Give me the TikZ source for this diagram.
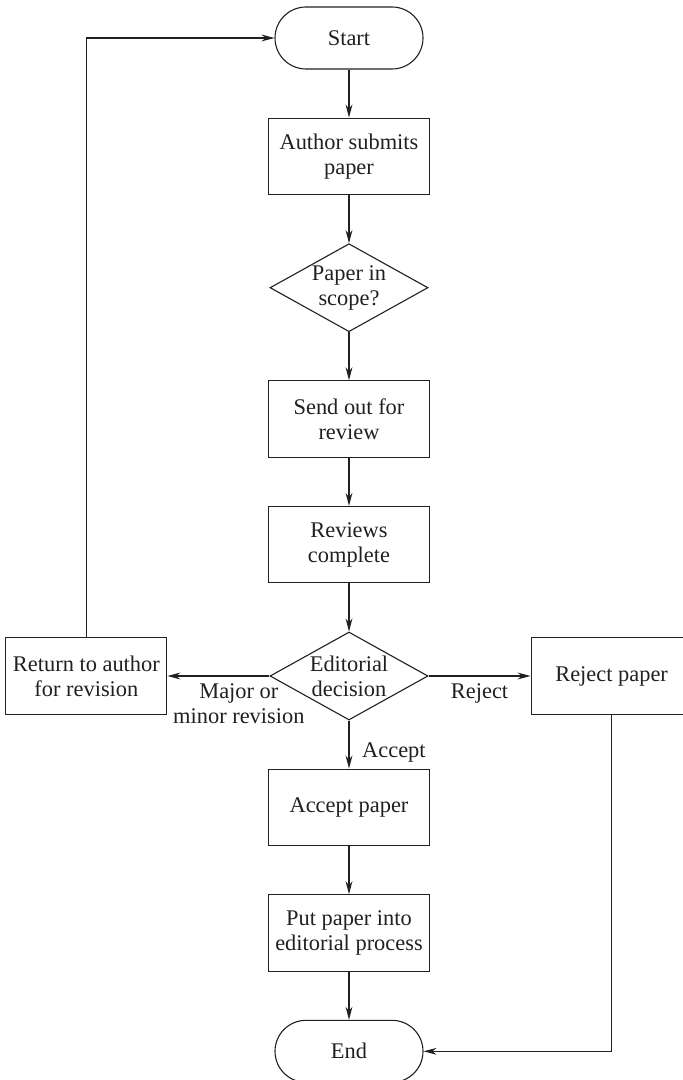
\documentclass[tikz,border=0pt]{standalone}
\usepackage{fontspec}
\setmainfont{Liberation Serif}
\usepackage{xcolor}
\definecolor{ink}{HTML}{231F20}
\usetikzlibrary{arrows.meta, shapes.geometric, positioning}

\begin{document}
\begin{tikzpicture}[x=0.5pt, y=-0.5pt, >={Stealth[length=6.5pt, width=3.4pt]},
  font=\fontsize{11.2}{12.5}\selectfont, color=ink, line width=0.55pt,
  node distance=24pt and 51pt,
  terminal/.style={draw, rounded corners=15.5pt, minimum width=74pt, minimum height=31pt},
  procbox/.style={draw, align=center, inner sep=2pt, minimum width=80.5pt, minimum height=38.25pt},
  decision/.style={draw, diamond, aspect=1.8, inner sep=0pt, align=center,
                   minimum width=79pt, minimum height=44pt},
  flow/.style={->}]

  \useasboundingbox (0,0) rectangle (682,1080);

  % main column
  \node[terminal] (start) at (349,38) {Start};
  \node[procbox, below=of start] (submit) {Author submits\\paper};
  \node[decision, below=of submit] (scope) {Paper in\\scope?};
  \node[procbox, below=of scope] (review) {Send out for\\review};
  \node[procbox, below=of review] (complete) {Reviews\\complete};
  \node[decision, below=of complete] (decide) {Editorial\\decision};
  \node[procbox, left=of decide] (revise) {Return to author\\for revision};
  \node[procbox, right=of decide] (reject) {Reject paper};
  \node[procbox, below=of decide] (accept) {Accept paper};
  \node[procbox, below=of accept] (process) {Put paper into\\editorial process};
  \node[terminal, below=of process] (end) {End};

  \draw[flow] (start) -- (submit);
  \draw[flow] (submit) -- (scope);
  \draw[flow] (scope) -- (review);
  \draw[flow] (review) -- (complete);
  \draw[flow] (complete) -- (decide);
  \draw[flow] (decide) -- node[below, pos=0.3, align=center] {Major or\\minor revision} (revise);
  \draw[flow] (decide) -- node[below] {Reject} (reject);
  \draw[flow] (decide) -- node[right, pos=0.66, xshift=3pt] {Accept} (accept);
  \draw[flow] (accept) -- (process);
  \draw[flow] (process) -- (end);

  % loops back
  \draw[flow] (revise) |- (start);
  \draw[flow] (reject) |- (end);
\end{tikzpicture}
\end{document}
